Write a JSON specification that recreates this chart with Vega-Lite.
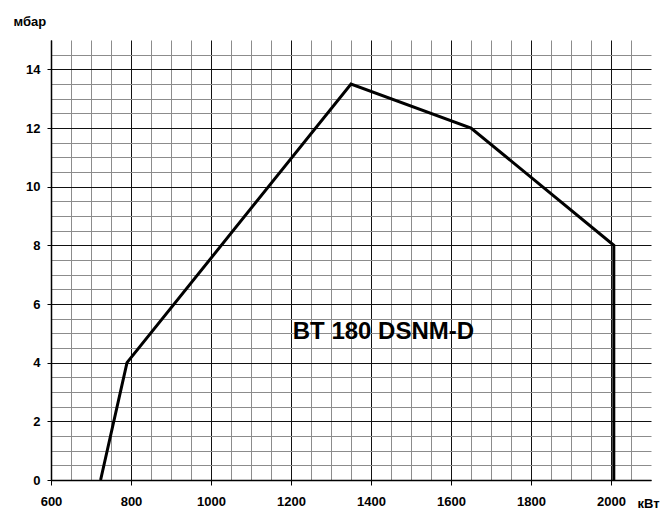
{
  "$schema": "https://vega.github.io/schema/vega-lite/v6.json",
  "autosize": "none",
  "width": 600,
  "height": 440,
  "padding": {"left": 51, "top": 40, "right": 15, "bottom": 30},
  "background": "white",
  "config": {
    "view": {"stroke": null},
    "font": "Liberation Sans",
    "axis": {"labelFont": "Liberation Sans", "labelFontWeight": "bold", "labelFontSize": 13, "labelColor": "black"}
  },
  "resolve": {"axis": {"x": "independent", "y": "independent"}},
  "layer": [
    {
      "data": {"values": [
        {"kw": 724, "mbar": 0},
        {"kw": 790, "mbar": 4},
        {"kw": 1350, "mbar": 13.5},
        {"kw": 1650, "mbar": 12},
        {"kw": 2007, "mbar": 8},
        {"kw": 2007, "mbar": 0}
      ]},
      "mark": {"type": "line", "color": "black", "strokeWidth": 3, "strokeJoin": "miter"},
      "encoding": {
        "x": {
          "field": "kw", "type": "quantitative",
          "scale": {"domain": [600, 2100], "nice": false, "zero": false},
          "axis": {
            "orient": "bottom",
            "title": null,
            "values": [650,700,750,850,900,950,1050,1100,1150,1250,1300,1350,1450,1500,1550,1650,1700,1750,1850,1900,1950,2050],
            "labels": false, "ticks": false, "domain": false,
            "grid": true, "gridColor": "#8c8c8c", "gridWidth": 1
          }
        },
        "y": {
          "field": "mbar", "type": "quantitative",
          "scale": {"domain": [0, 15], "nice": false},
          "axis": {
            "orient": "left",
            "title": null,
            "values": [0.5,1,1.5,2.5,3,3.5,4.5,5,5.5,6.5,7,7.5,8.5,9,9.5,10.5,11,11.5,12.5,13,13.5,14.5],
            "labels": false, "ticks": false, "domain": false,
            "grid": true, "gridColor": "#8c8c8c", "gridWidth": 1
          }
        }
      }
    },
    {
      "data": {"values": [{"kw": 1431, "mbar": 4.82, "label": "BT 180 DSNM-D"}]},
      "mark": {"type": "text", "font": "Liberation Sans", "fontWeight": "bold", "fontSize": 24, "color": "black", "align": "center", "baseline": "alphabetic"},
      "encoding": {
        "x": {
          "field": "kw", "type": "quantitative",
          "scale": {"domain": [600, 2100], "nice": false, "zero": false},
          "axis": {
            "orient": "bottom",
            "title": "кВт",
            "titleFont": "Liberation Sans", "titleFontWeight": "bold", "titleFontSize": 13,
            "titleX": 597, "titleY": 27, "titleAlign": "center", "titleBaseline": "alphabetic", "titleAnchor": null,
            "format": "d",
            "values": [600,800,1000,1200,1400,1600,1800,2000],
            "labelFlush": false, "labelPadding": 10, "labelOverlap": false,
            "domain": true, "domainColor": "black", "domainWidth": 1.5,
            "grid": true, "gridColor": "#111111", "gridWidth": 1,
            "ticks": true, "tickSize": 5, "tickColor": "black"
          }
        },
        "y": {
          "field": "mbar", "type": "quantitative",
          "scale": {"domain": [0, 15], "nice": false},
          "axis": {
            "orient": "left",
            "title": "мбар",
            "titleAngle": 0, "titleFont": "Liberation Sans", "titleFontWeight": "bold", "titleFontSize": 13,
            "titleAlign": "left", "titleBaseline": "alphabetic", "titleX": -38, "titleY": -15,
            "values": [0,2,4,6,8,10,12,14],
            "labelPadding": 7, "labelOverlap": false,
            "domain": true, "domainColor": "black", "domainWidth": 1.5,
            "grid": true, "gridColor": "#111111", "gridWidth": 1,
            "ticks": true, "tickSize": 4, "tickColor": "black"
          }
        },
        "text": {"field": "label"}
      }
    }
  ]
}
